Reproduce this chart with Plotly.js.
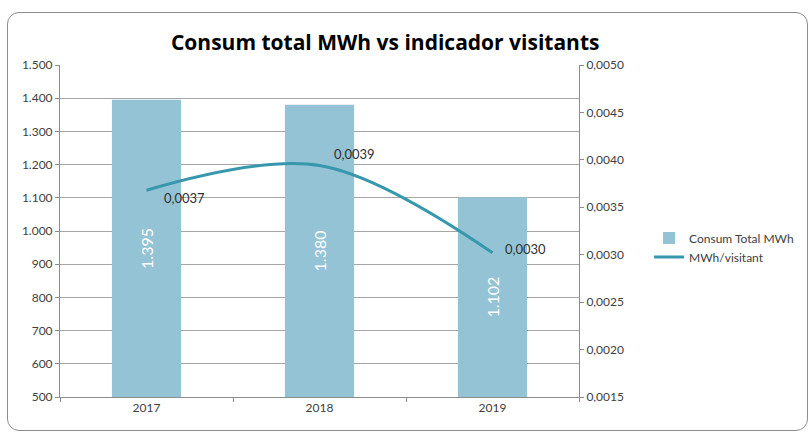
<!DOCTYPE html>
<html>
<head>
<meta charset="utf-8">
<script src="https://cdn.plot.ly/plotly-3.0.1.min.js"></script>
<style>
  html, body { margin: 0; padding: 0; background: #ffffff; }
  #frame { position: absolute; left: 7px; top: 12px; width: 801px; height: 419px;
           border: 1px solid #8c8c8c; border-radius: 12px; box-sizing: border-box; }
  #chart { position: absolute; left: 0; top: 0; width: 811px; height: 434px; }
</style>
</head>
<body>
<div id="frame"></div>
<div id="chart"></div>
<script>
const categories = ['2017', '2018', '2019'];
const consumTotal = [1395, 1380, 1102];
const barLabels = ['1.395', '1.380', '1.102'];
const mwhPerVisitant = [0.00368, 0.00394, 0.00302];
const lineLabels = ['0,0037', '0,0039', '0,0030'];
const leftTicks = [500, 600, 700, 800, 900, 1000, 1100, 1200, 1300, 1400, 1500];
const rightTicks = [0.0015, 0.0020, 0.0025, 0.0030, 0.0035, 0.0040, 0.0045, 0.0050];

const font = "Lato, 'Noto Sans', sans-serif";
const leftRange = [500, 1500];

const bars = {
  type: 'bar',
  name: 'Consum Total MWh',
  x: categories,
  y: consumTotal,
  width: 0.4,
  marker: { color: '#93c3d5' },
  hoverinfo: 'skip'
};

const line = {
  type: 'scatter',
  mode: 'lines',
  name: 'MWh/visitant',
  x: categories,
  y: mwhPerVisitant,
  yaxis: 'y2',
  line: { color: '#3797ad', width: 3, shape: 'spline', smoothing: 1 },
  hoverinfo: 'skip'
};

const labelShifts = [[38, -8], [35, 12], [33, 4]];
const annotations = [];
categories.forEach((c, i) => {
  annotations.push({
    x: i, y: (consumTotal[i] + leftRange[0]) / 2, xref: 'x', yref: 'y',
    text: barLabels[i], textangle: -90, showarrow: false,
    font: { color: '#ffffff', size: 16, family: font }
  });
  annotations.push({
    x: i, y: mwhPerVisitant[i], xref: 'x', yref: 'y2',
    text: lineLabels[i], showarrow: false,
    xshift: labelShifts[i][0], yshift: labelShifts[i][1],
    font: { color: '#303030', size: 13, family: font }
  });
});

const layout = {
  width: 811,
  height: 434,
  paper_bgcolor: 'rgba(0,0,0,0)',
  plot_bgcolor: 'rgba(0,0,0,0)',
  separators: ',.',
  margin: { l: 60, r: 228, t: 65, b: 37 },
  font: { family: font, color: '#404040', size: 11 },
  title: {
    text: '<b>Consum total MWh vs indicador visitants</b>',
    font: { family: "'Open Sans', sans-serif", size: 21, color: '#000000' },
    x: 0.475, xanchor: 'center', y: 0.901, yanchor: 'middle'
  },
  xaxis: {
    type: 'category',
    categoryarray: categories,
    range: [-0.5, categories.length - 0.5],
    autorange: false,
    showgrid: false,
    showline: true,
    linecolor: '#8c8c8c',
    linewidth: 1,
    ticks: 'outside',
    tickson: 'boundaries',
    ticklen: 4,
    tickcolor: '#8c8c8c',
    tickfont: { size: 12, color: '#404040' }
  },
  yaxis: {
    range: leftRange,
    tickvals: leftTicks,
    tickformat: ',d',
    showgrid: true,
    gridcolor: '#a6a6a6',
    gridwidth: 1,
    showline: true,
    linecolor: '#8c8c8c',
    ticks: 'outside',
    ticklen: 4,
    tickcolor: '#8c8c8c',
    zeroline: false,
    tickfont: { size: 12, color: '#404040' }
  },
  yaxis2: {
    overlaying: 'y',
    side: 'right',
    range: [0.0015, 0.0050],
    tickvals: rightTicks,
    tickformat: '.4f',
    showgrid: false,
    showline: true,
    linecolor: '#8c8c8c',
    ticks: 'outside',
    ticklen: 4,
    tickcolor: '#8c8c8c',
    zeroline: false,
    tickfont: { size: 12, color: '#404040' }
  },
  annotations: annotations,
  showlegend: true,
  legend: {
    x: 1.135, xanchor: 'left',
    y: 0.45, yanchor: 'middle',
    font: { size: 12, color: '#404040' },
    bgcolor: 'rgba(0,0,0,0)',
    tracegroupgap: 2
  },
  bargap: 0.6
};

Plotly.newPlot('chart', [bars, line], layout, { displayModeBar: false, staticPlot: true });
</script>
</body>
</html>
